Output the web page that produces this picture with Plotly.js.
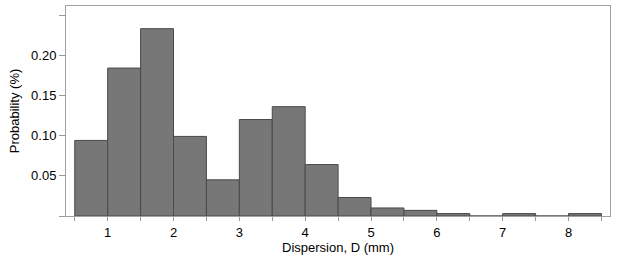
<!DOCTYPE html>
<html>
<head>
<meta charset="utf-8">
<script src="https://cdn.plot.ly/plotly-3.0.1.min.js"></script>
<style>html,body{margin:0;padding:0;background:#fff;}#chart{width:617px;height:262px;}</style>
</head>
<body>
<div id="chart"></div>
<script>
// Bin left edges (mm) and bin width
var binStarts = [0.5, 1.0, 1.5, 2.0, 2.5, 3.0, 3.5, 4.0, 4.5, 5.0, 5.5, 6.0, 6.5, 7.0, 7.5, 8.0];
var binWidth = 0.5;
// Probability per bin
var probabilities = [0.094, 0.184, 0.233, 0.099, 0.045, 0.120, 0.136, 0.064, 0.023, 0.010, 0.007, 0.003, 0, 0.003, 0, 0.003];
// Axis ticks
var xTickVals = [0.5, 1, 1.5, 2, 2.5, 3, 3.5, 4, 4.5, 5, 5.5, 6, 6.5, 7, 7.5, 8, 8.5];
var xTickText = ["", "1", "", "2", "", "3", "", "4", "", "5", "", "6", "", "7", "", "8", ""];
var yTickVals = [0, 0.05, 0.10, 0.15, 0.20, 0.25];
var yTickText = ["", "0.05", "0.10", "0.15", "0.20", ""];

var centers = binStarts.map(function (s) { return s + binWidth / 2; });

var trace = {
  type: 'bar',
  x: centers,
  y: probabilities,
  width: binWidth,
  marker: { color: '#777777', line: { color: '#4a4a4a', width: 1 } },
  hoverinfo: 'x+y'
};

var font = { family: 'Liberation Sans, Arial, Helvetica, sans-serif', size: 13, color: '#000' };

var layout = {
  width: 617, height: 262,
  margin: { l: 66, r: 7, t: 6, b: 46, pad: 0 },
  paper_bgcolor: '#fff', plot_bgcolor: '#fff',
  font: font,
  showlegend: false,
  bargap: 0,
  xaxis: {
    range: [0.367, 8.63],
    tickmode: 'array', tickvals: xTickVals, ticktext: xTickText,
    ticks: 'outside', ticklen: 4, tickcolor: '#999', tickwidth: 1,
    showline: true, linecolor: '#a0a0a0', linewidth: 1, mirror: true,
    showgrid: false, zeroline: false,
    tickfont: font,
    title: { text: 'Dispersion, D (mm)', font: font, standoff: 4 }
  },
  yaxis: {
    range: [0, 0.2612],
    tickmode: 'array', tickvals: yTickVals, ticktext: yTickText,
    ticks: 'outside', ticklen: 6, tickcolor: '#999', tickwidth: 1,
    showline: true, linecolor: '#a0a0a0', linewidth: 1, mirror: true,
    showgrid: false, zeroline: false,
    tickfont: font,
    title: { text: 'Probability (%)', font: font, standoff: 8 }
  }
};

Plotly.newPlot('chart', [trace], layout, { displayModeBar: false, staticPlot: true });
</script>
</body>
</html>
